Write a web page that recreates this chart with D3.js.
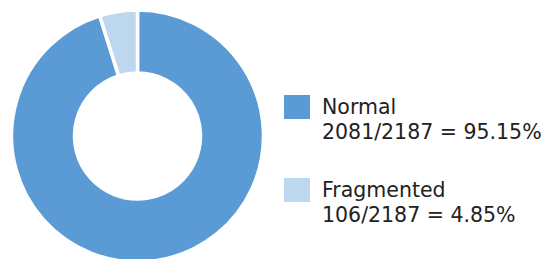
<!DOCTYPE html>
<html>
<head>
<meta charset="utf-8">
<script src="https://cdn.jsdelivr.net/npm/d3@7"></script>
<style>
  body { margin: 0; background: #fff; }
  text { font-family: "DejaVu Sans", sans-serif; fill: #222; }
</style>
</head>
<body>
<svg id="chart" width="550" height="259"></svg>
<script>
// data
const categories = ["Normal", "Fragmented"];
const counts = [2081, 106];
const total = 2187;
const colors = ["#5b9bd5", "#bdd7ee"];

const svg = d3.select("#chart");

// donut
const cx = 137.5, cy = 136;
const outerR = 126, innerR = 63;

const pie = d3.pie()
  .sort(null)
  .value(d => d)
  .startAngle(0)
  .endAngle(2 * Math.PI);

const arc = d3.arc()
  .innerRadius(innerR)
  .outerRadius(outerR);

const g = svg.append("g")
  .attr("transform", `translate(${cx},${cy})`);

g.selectAll("path")
  .data(pie(counts))
  .join("path")
  .attr("d", arc)
  .attr("fill", (d, i) => colors[i])
  .attr("stroke", "#fff")
  .attr("stroke-width", 3.5);

// legend
const legend = svg.append("g")
  .attr("class", "legend")
  .attr("transform", "translate(284,95)");

const item = legend.selectAll("g")
  .data(categories)
  .join("g")
  .attr("transform", (d, i) => `translate(0,${i * 83})`);

item.append("rect")
  .attr("width", 26)
  .attr("height", 24)
  .attr("fill", (d, i) => colors[i]);

item.append("text")
  .attr("x", 38)
  .attr("y", 19)
  .attr("font-size", "20.5px")
  .text(d => d);

item.append("text")
  .attr("x", 38)
  .attr("y", 44)
  .attr("font-size", "20.5px")
  .text((d, i) => `${counts[i]}/${total} = ${(counts[i] / total * 100).toFixed(2)}%`);
</script>
</body>
</html>
